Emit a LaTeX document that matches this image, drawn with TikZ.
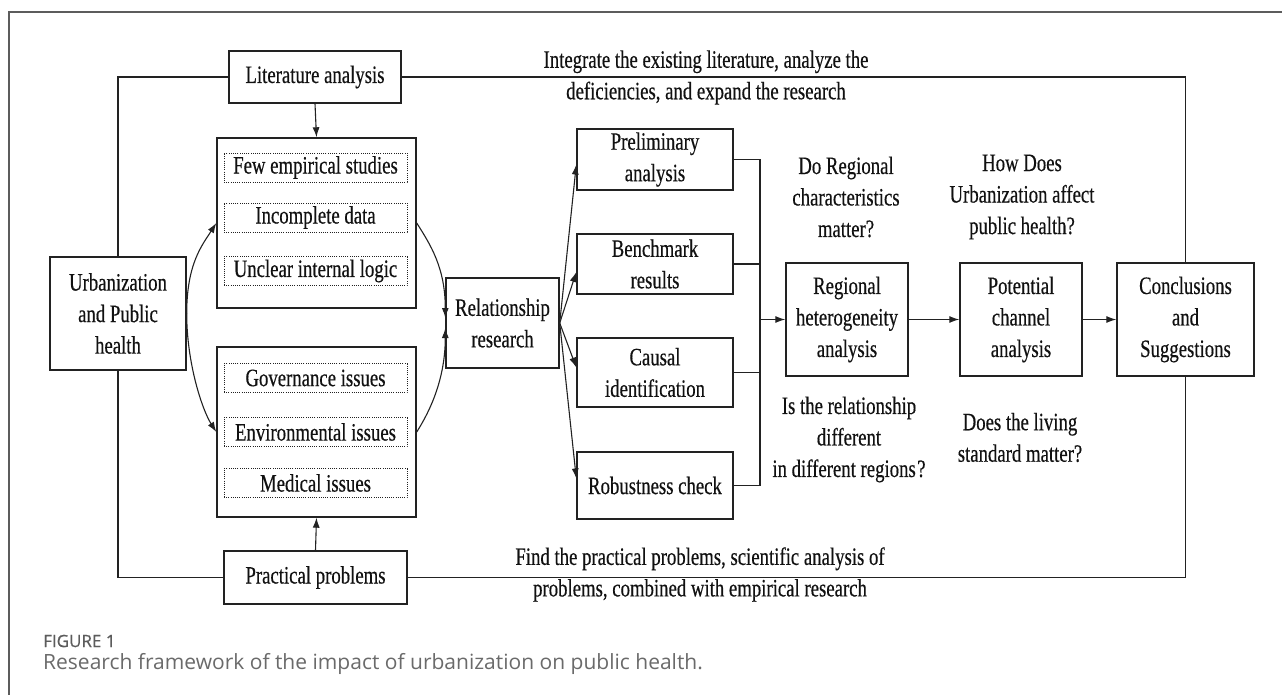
\documentclass[tikz,border=0pt]{standalone}
\usepackage{fontspec}
\setmainfont{Liberation Serif}[FakeStretch=0.75,FakeBold=0.4]
\newfontfamily\capfont{Open Sans}
\newfontfamily\capfontsb{Open Sans}[FakeBold=0.6]
\usepackage{xcolor}
\usetikzlibrary{calc,arrows.meta}
\definecolor{ink}{HTML}{111111}
\definecolor{rule}{HTML}{222222}
\definecolor{framegray}{HTML}{5C5C5C}
\definecolor{capgray}{HTML}{6A6A6A}
\newcommand{\boxfont}{\fontsize{25}{31.5}\selectfont}
\tikzset{
  box/.style={draw=rule, line width=1.4pt, text=ink, align=center, inner sep=0pt, font=\boxfont},
  grp/.style={draw=rule, line width=1.4pt, minimum width=199pt, minimum height=170pt, inner sep=0pt},
  item/.style={draw=rule, line width=0.9pt, dash pattern=on 1pt off 1.2pt, text=ink, inner sep=0pt,
    minimum width=183pt, minimum height=29pt, font=\boxfont},
  colbox/.style={box, minimum width=156pt},
  stagebox/.style={box, minimum width=122pt, minimum height=113pt},
  note/.style={text=ink, align=center, inner sep=0pt, font=\boxfont},
  link/.style={draw=rule, line width=1.1pt},
  flow/.style={link, -{Latex[length=10pt,width=7pt]}},
  framerule/.style={draw=framegray, line width=1.1pt},
}

\begin{document}
\begin{tikzpicture}[x=1pt,y=-1pt]
  \useasboundingbox (0,0) rectangle (1282,695);
  \draw[framerule] (9,695) -- (9,12) -- (1282,12);

  % left part
  \node[box, minimum width=172pt, minimum height=52pt] (lit) at (315,77) {Literature analysis};
  \node[box, minimum width=136pt, minimum height=113pt] (urban) at (118,313.5) {Urbanization\\and Public\\health};
  \node[grp] (grpA) at (316.5,223) {};
  \node[item] (few) at (315.5,167.5) {Few empirical studies};
  \node[item] (incomp) at (315.5,217.5) {Incomplete data};
  \node[item] (unclear) at (315.5,271) {Unclear internal logic};
  \node[grp] (grpB) at (316.5,432) {};
  \node[item] (gov) at (315.5,378) {Governance issues};
  \node[item] (env) at (315.5,432) {Environmental issues};
  \node[item] (med) at (315.5,483) {Medical issues};
  \node[box, minimum width=183pt, minimum height=53pt] (prac) at (315.5,577.5) {Practical problems};
  \node[box, minimum width=113pt, minimum height=90pt] (rel) at (502.5,323) {Relationship\\research};

  % checks
  \node[colbox, minimum height=61pt] (prelim) at (655,159.5) {Preliminary\\analysis};
  \node[colbox, minimum height=60pt] (bench) at (655,264) {Benchmark\\results};
  \node[colbox, minimum height=69pt] (causal) at (655,372.5) {Causal\\identification};
  \node[colbox, minimum height=67pt] (robust) at (655,485.5) {Robustness check};
  \coordinate (brk) at (760,319.5);

  % right part
  \node[stagebox] (regional) at (847,319.5) {Regional\\heterogeneity\\analysis};
  \node[stagebox] (potential) at (1021,319.5) {Potential\\channel\\analysis};
  \node[stagebox, minimum width=137pt] (concl) at (1185.5,319.5) {Conclusions\\and\\Suggestions};

  \node[note] (intnote) at (706,77.5) {Integrate the existing literature, analyze the\\deficiencies, and expand the research};
  \node[note] (findnote) at (700,574.5) {Find the practical problems, scientific analysis of\\problems, combined with empirical research};
  \node[note] (qregion) at (846,197) {Do Regional\\characteristics\\matter?};
  \node[note] (qhow) at (1022,197) {How Does\\Urbanization affect\\public health?};
  \node[note] (qdiff) at (849,439.5) {Is the relationship\\different\\in different regions\kern1.5pt?};
  \node[note] (qliving) at (1020,437.5) {Does the living\\standard matter?};

  % outer loop
  \draw[link] (urban.north) |- (lit.west);
  \draw[link] (lit.east) -| (concl.north);
  \draw[link] (urban.south) |- (prac.west);
  \draw[link] (prac.east) -| (concl.south);
  \draw[flow] (lit.south) -- (grpA.north);
  \draw[flow] (prac.north) -- (grpB.south);

  % arcs
  \draw[flow] (urban.east) .. controls +(0,-50) and +(-14,22) .. (grpA.west);
  \draw[flow] (urban.east) .. controls +(0,50) and +(-14,-22) .. (grpB.west);
  \draw[flow] (grpA.east) .. controls +(14,22) and +(0,-50) .. ([yshift=5pt]rel.west);
  \draw[flow] (grpB.east) .. controls +(14,-22) and +(0,50) .. ([yshift=-5pt]rel.west);

  \draw[flow] (rel.east) -- ([yshift=-5pt]prelim.west);
  \draw[flow] (rel.east) -- ([yshift=-8pt]bench.west);
  \draw[flow] (rel.east) -- ([yshift=5pt]causal.west);
  \draw[flow] (rel.east) -- ([yshift=7pt]robust.west);

  \draw[link] (prelim.east) -| (brk |- robust.east) -- (robust.east);
  \draw[link] (bench.east) -- (bench.east -| brk);
  \draw[link] (causal.east) -- (causal.east -| brk);
  \draw[flow] (brk) -- (regional.west);
  \draw[flow] (regional.east) -- (potential.west);
  \draw[flow] (potential.east) -- (concl.west);

  % caption
  \node[anchor=west, inner sep=0pt, text=framegray, font=\capfontsb\fontsize{17}{20}\selectfont] (figlabel) at (43,641) {FIGURE 1};
  \node[anchor=west, inner sep=0pt, text=capgray, font=\capfont\fontsize{21}{25}\selectfont] (figcap) at (43,664) {Research framework of the impact of urbanization on public health.};
\end{tikzpicture}
\end{document}
